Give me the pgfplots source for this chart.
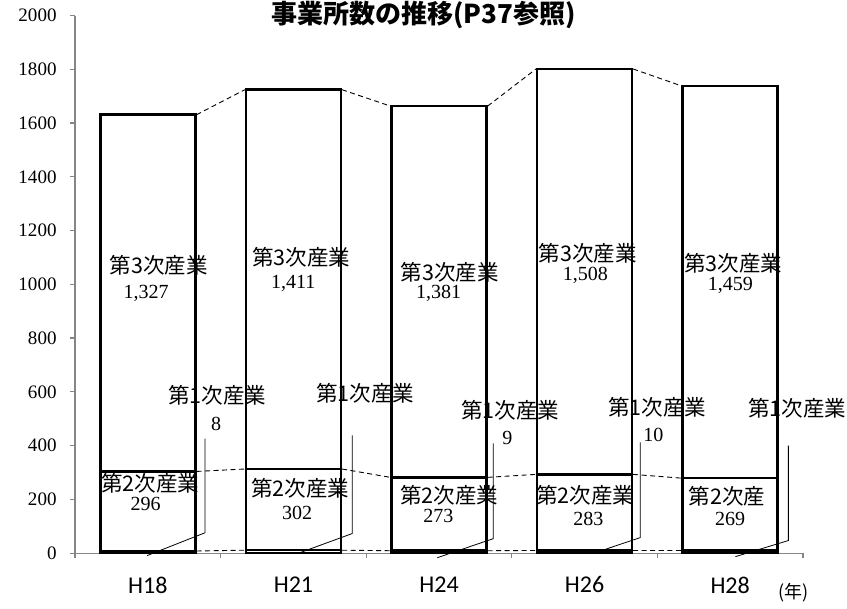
\documentclass[border=0pt]{standalone}
\usepackage{fontspec}
\setmainfont{Liberation Serif}
\newfontfamily\jp{Noto Sans CJK JP}
\newfontfamily\carl{Carlito}
\usepackage{pgfplots}
\usepackage{pgfplotstable}
\pgfplotsset{compat=1.18}
\definecolor{axisgray}{RGB}{134,134,134}

% 事業所数: 第1次, 第2次, 第3次産業
\pgfplotstableread{
x first second third
0 8  296 1327
1 11 302 1411
2 9  273 1381
3 10 283 1508
4 10 269 1459
}\jigyosho

\pgfplotsset{
  base/.style={
    scale only axis, width=727pt, height=537pt,
    xmin=-0.5, xmax=4.5, ymin=0, ymax=2000,
    clip=false,
  },
}
\tikzset{
  lbl/.style={font=\jp\fontsize{21.5}{24}\selectfont, inner sep=0pt},
  num/.style={font=\fontsize{20}{22}\selectfont, inner sep=0pt},
  leader/.style={black, line width=0.8pt},
}

\begin{document}
\begin{tikzpicture}
\begin{axis}[base, name=ax,
    ybar stacked, bar width=95pt,
    axis x line*=bottom, axis y line*=left,
    axis line style={axisgray, line width=1.2pt, -},
    tick align=outside, major tick length=5pt,
    tick style={axisgray, line width=1.2pt},
    ytick={0,200,...,2000},
    yticklabel style={font=\fontsize{19}{22}\selectfont, xshift=-10pt},
    /pgf/number format/assume math mode=true,
    /pgf/number format/1000 sep={},
    xtick={-0.5,0.5,1.5,2.5,3.5,4.5},
    xticklabels={,,,,,},
    extra x ticks={0,1,2,3,4},
    extra x tick labels={H18,H21,H24,H26,H28},
    extra x tick style={major tick length=0pt,
      xticklabel style={font=\carl\fontsize{24}{28}\selectfont, yshift=-20pt}},
  ]
\addplot[fill=white, draw=black, line width=2.5pt] table[x=x, y=first]{\jigyosho};
\addplot[fill=white, draw=black, line width=2.5pt] table[x=x, y=second]{\jigyosho};
\addplot[fill=white, draw=black, line width=2.5pt] table[x=x, y=third]{\jigyosho};
\end{axis}

\begin{axis}[base, at={(ax.south west)}, anchor=south west, hide axis]
% series lines between the stacked bars
\addplot[black, line width=0.9pt, dash pattern=on 5pt off 3.5pt, unbounded coords=jump] coordinates {
(0.334,8) (0.666,11) (0.9,nan)
(1.334,11) (1.666,9) (1.9,nan)
(2.334,9) (2.666,10) (2.9,nan)
(3.334,10) (3.666,10)
};
\addplot[black, line width=0.9pt, dash pattern=on 5pt off 3.5pt, unbounded coords=jump] coordinates {
(0.334,304) (0.666,313) (0.9,nan)
(1.334,313) (1.666,282) (1.9,nan)
(2.334,282) (2.666,293) (2.9,nan)
(3.334,293) (3.666,279)
};
\addplot[black, line width=0.9pt, dash pattern=on 5pt off 3.5pt, unbounded coords=jump] coordinates {
(0.334,1631) (0.666,1724) (0.9,nan)
(1.334,1724) (1.666,1663) (1.9,nan)
(2.334,1663) (2.666,1801) (2.9,nan)
(3.334,1801) (3.666,1738)
};

% 第3次産業
\node[lbl] at (axis cs:0.074,1071) {第3次産業};
\node[num] at (axis cs:-0.012,966) {1,327};
\node[lbl] at (axis cs:1.053,1100) {第3次産業};
\node[num] at (axis cs:0.998,1004) {1,411};
\node[lbl] at (axis cs:2.074,1045) {第3次産業};
\node[num] at (axis cs:1.998,966) {1,381};
\node[lbl] at (axis cs:3.022,1115) {第3次産業};
\node[num] at (axis cs:3.005,1034) {1,508};
\node[lbl] at (axis cs:4.022,1078) {第3次産業};
\node[num] at (axis cs:4.002,996) {1,459};

% 第2次産業
\node[lbl] at (axis cs:0.015,259) {第2次産業};
\node[num] at (axis cs:-0.015,184) {296};
\node[lbl] at (axis cs:1.046,240) {第2次産業};
\node[num] at (axis cs:1.026,151) {302};
\node[lbl] at (axis cs:2.07,214) {第2次産業};
\node[num] at (axis cs:1.995,140) {273};
\node[lbl] at (axis cs:3.005,215) {第2次産業};
\node[num] at (axis cs:3.026,128) {283};
\node[lbl] at (axis cs:3.98,210) {第2次産};
\node[num] at (axis cs:4.0,126) {269};

% 第1次産業 with leader lines
\node[lbl] at (axis cs:0.476,587) {第1次産業};
\node[num] at (axis cs:0.469,479) {8};
\draw[leader] (axis cs:0.393,426) -- (axis cs:0.393,76) -- (axis cs:-0.005,-9);
\node[lbl] at (axis cs:1.493,594) {第1次産業};
\draw[leader] (axis cs:1.404,438) -- (axis cs:1.404,73) -- (axis cs:1.026,-2);
\node[lbl] at (axis cs:2.49,531) {第1次産業};
\node[num] at (axis cs:2.469,430) {9};
\draw[leader] (axis cs:2.373,408) -- (axis cs:2.373,54) -- (axis cs:1.988,-17);
\node[lbl] at (axis cs:3.5,542) {第1次産業};
\node[num] at (axis cs:3.473,438) {10};
\draw[leader] (axis cs:3.383,412) -- (axis cs:3.383,58) -- (axis cs:3.053,-2);
\node[lbl] at (axis cs:4.462,538) {第1次産業};
\draw[leader] (axis cs:4.4,400) -- (axis cs:4.4,47) -- (axis cs:4.036,-13);
\end{axis}

\node[font=\jp\fontsize{18}{20}\selectfont] at ([shift={(718pt,-39.5pt)}]ax.south west) {(年)};
\node[font=\jp\bfseries\fontsize{26}{30}\selectfont, anchor=north, inner sep=0pt]
  at ([shift={(348pt,14.5pt)}]ax.north west) {事業所数の推移(P37参照)};

\pgfresetboundingbox
\useasboundingbox ([shift={(-75pt,-55.5pt)}]ax.south west) rectangle ([shift={(44pt,15.5pt)}]ax.north east);
\end{tikzpicture}
\end{document}
